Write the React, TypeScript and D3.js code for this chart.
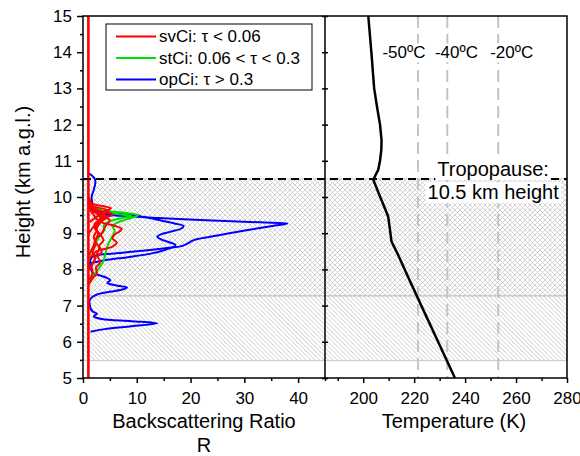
import React, { useEffect, useRef } from "react";
import * as d3 from "d3";

// axis ticks
const heightTicks = [5, 6, 7, 8, 9, 10, 11, 12, 13, 14, 15];
const heightMinor = [5.5, 6.5, 7.5, 8.5, 9.5, 10.5, 11.5, 12.5, 13.5, 14.5];
const ratioTicks = [0, 10, 20, 30, 40];
const ratioMinor = [5, 15, 25, 35, 45];
const tempTicks = [200, 220, 240, 260, 280];
const tempMinor = [190, 210, 230, 250, 270];

// cloud layers (km): cross-hatched upper layer, diagonal lower layer
const layerTop = [10.5, 7.27];
const layerBottom = [7.27, 5.48];
const layerPattern = ["cross", "diag"];
const tropopause = 10.5;

// temperature profile
const tempHeight = [5, 6, 7, 7.7, 8, 8.4, 8.77, 9.1, 9.46, 9.8, 10.1, 10.47, 10.6, 10.75, 11.0, 11.3, 11.57, 12.0, 12.5, 13.0, 14.0, 15.0];
const tempK = [236, 229.4, 222.8, 218.2, 216.3, 213.7, 211.1, 210.5, 209.8, 207.85, 206.1, 204, 204.8, 205.9, 206.6, 207.1, 207.2, 206.6, 205.4, 204.3, 203.2, 202];

// isotherms
const isoK = [221.5, 233, 253];
const isoLabels = ["-50ºC", "-40ºC", "-20ºC"];
const isoLabelK = [216, 236.6, 258.3];
const isoLabelH = 13.83;

// backscatter ratio profiles [height km, R]
const redBase: [number, number][] = [[5, 1], [15, 1]];
const red1: [number, number][] = [[8.3, 1.2], [8.5, 2.5], [8.63, 5.5], [8.74, 6.3], [8.85, 5.5], [8.95, 5.8], [9.05, 6.8], [9.12, 7.2], [9.2, 6], [9.3, 3.5], [9.4, 2.5], [9.5, 2], [9.6, 1.5], [9.8, 1.2]];
const red2: [number, number][] = [[9.3, 1.2], [9.45, 2.5], [9.55, 3.5], [9.63, 4.5], [9.69, 5.2], [9.74, 4], [9.8, 2], [9.9, 1.3], [10.0, 1.1]];
const red3: [number, number][] = [[8.0, 1.2], [8.2, 2], [8.4, 2.5], [8.6, 3], [8.8, 2.2], [9.0, 3.5], [9.2, 4.2], [9.35, 5], [9.45, 4], [9.55, 2.5], [9.65, 1.5], [9.8, 1.1]];
const red4: [number, number][] = [[7.6, 1.1], [7.75, 1.8], [7.9, 2.6], [8.05, 2.4], [8.2, 3.2], [8.35, 2.8], [8.5, 3.5], [8.65, 3], [8.8, 3.8], [8.95, 3.3], [9.1, 2.5], [9.25, 3], [9.4, 3.8], [9.5, 2.8], [9.6, 4.8], [9.66, 4.2], [9.75, 1.8], [9.9, 1.1]];
const red5: [number, number][] = [[8.4, 1.1], [8.6, 1.8], [8.8, 2.3], [9.0, 2.8], [9.15, 2.2], [9.3, 3], [9.45, 4.5], [9.52, 3.8], [9.6, 2], [9.7, 1.2]];
const red6: [number, number][] = [[7.7, 1.1], [7.9, 1.8], [8.1, 1.6], [8.3, 2.2], [8.5, 1.8], [8.7, 2.4], [8.9, 2], [9.1, 2.6], [9.25, 2.2], [9.4, 3.2], [9.55, 2.6], [9.7, 1.5], [9.85, 1.1]];
const red7: [number, number][] = [[9.0, 1.1], [9.15, 1.8], [9.3, 2.5], [9.42, 3.8], [9.5, 5.5], [9.56, 5], [9.62, 3], [9.7, 1.8], [9.8, 1.1]];
const green1: [number, number][] = [[7.6, 1.1], [7.72, 1.6], [7.84, 2], [8.0, 2.8], [8.23, 3.8], [8.45, 4.2], [8.67, 4.6], [8.85, 5.2], [9.06, 5.9], [9.2, 5.5], [9.3, 6.5], [9.4, 8.5], [9.5, 10.3], [9.56, 8], [9.62, 4], [9.7, 2], [9.8, 1.2]];
const green2: [number, number][] = [[8.4, 1.2], [8.6, 2], [8.8, 2.6], [8.95, 3.3], [9.1, 4], [9.2, 3.8], [9.3, 4.5], [9.4, 6.5], [9.47, 9], [9.52, 7], [9.58, 4.5], [9.65, 2.5], [9.75, 1.3]];
const blueDeep: [number, number][] = [[8.05, 1.3], [8.2, 1.3], [8.3, 1.5], [8.37, 2], [8.43, 5], [8.5, 10], [8.58, 15], [8.65, 18.5], [8.72, 19.5], [8.81, 20.6], [8.9, 23.6], [9.0, 27.2], [9.1, 31.2], [9.2, 35.2], [9.27, 38], [9.3, 33], [9.35, 24], [9.42, 14], [9.48, 7], [9.53, 3.5], [9.6, 2], [9.7, 1.8], [9.85, 1.7], [10.0, 1.6], [10.2, 2], [10.4, 2.3], [10.5, 2.2], [10.6, 1.6], [10.68, 0.8]];
const blueWavy: [number, number][] = [[8.17, 1.4], [8.25, 4], [8.35, 9], [8.45, 13], [8.55, 15.5], [8.67, 17.2], [8.75, 16], [8.83, 14.5], [8.9, 13.8], [8.97, 14.5], [9.05, 16.5], [9.13, 18.3], [9.2, 18.7], [9.27, 17], [9.35, 14.5], [9.43, 12], [9.5, 9], [9.55, 5], [9.6, 2.5], [9.7, 1.6], [9.9, 1.4]];
const blueLow: [number, number][] = [[6.28, 1.4], [6.35, 4], [6.43, 9], [6.51, 13.8], [6.57, 9], [6.63, 3.5], [6.7, 2], [6.77, 2.6], [6.84, 1.8], [6.92, 1.4], [7.0, 1.3], [7.13, 1.2], [7.22, 1.6], [7.3, 2.5], [7.38, 5], [7.45, 7.5], [7.5, 8.2], [7.56, 6], [7.63, 4.5], [7.7, 5.1], [7.76, 4.5], [7.83, 3.2], [7.9, 1.8], [8.0, 1.5], [8.1, 1.4]];

const blueProfiles = [blueLow, blueWavy, blueDeep];
const greenProfiles = [green1, green2];
const redProfiles = [red1, red2, red3, red4, red5, red6, red7, redBase];

const legendLabels = ["svCi: τ < 0.06", "stCi: 0.06 < τ < 0.3", "opCi: τ > 0.3"];
const legendColors = ["#ff0000", "#00e000", "#0000ff"];

const W = 580, H = 456;
const margin = { top: 16, left: 83, right: 13, bottom: 78 };
const panelW = (W - margin.left - margin.right) / 2;
const font = "'Liberation Sans', Arial, sans-serif";

export default function App() {
  const ref = useRef<SVGSVGElement>(null);

  useEffect(() => {
    const svg = d3.select(ref.current);
    svg.selectAll("*").remove();
    const x0 = margin.left, x1 = x0 + panelW, x2 = x1 + panelW;
    const yTop = margin.top, yBot = H - margin.bottom;
    const y = d3.scaleLinear().domain([5, 15]).range([yBot, yTop]);
    const xR = d3.scaleLinear().domain([0, 45]).range([x0, x1]);
    const xT = d3.scaleLinear().domain([185, 280]).range([x1, x2]);

    const defs = svg.append("defs");
    const cross = defs.append("pattern").attr("id", "cross").attr("patternUnits", "userSpaceOnUse")
      .attr("width", 5).attr("height", 5);
    cross.append("path").attr("d", "M0,0L5,5M5,0L0,5").attr("stroke", "#c8c8c8").attr("stroke-width", 0.8);
    const diag = defs.append("pattern").attr("id", "diag").attr("patternUnits", "userSpaceOnUse")
      .attr("width", 4.5).attr("height", 4.5);
    diag.append("path").attr("d", "M0,0L4.5,4.5M-1,3.5L1,5.5M3.5,-1L5.5,1").attr("stroke", "#c4c4c4").attr("stroke-width", 0.9);
    defs.append("clipPath").attr("id", "leftClip").append("rect")
      .attr("x", x0).attr("y", yTop).attr("width", panelW).attr("height", yBot - yTop);

    // hatched cloud layers
    svg.append("g").selectAll("rect").data(layerTop).join("rect")
      .attr("x", x0).attr("width", x2 - x0)
      .attr("y", d => y(d)).attr("height", (d, i) => y(layerBottom[i]) - y(d))
      .attr("fill", (d, i) => `url(#${layerPattern[i]})`)
      .attr("stroke", "#c8c8c8").attr("stroke-width", 1);

    // isotherms
    svg.append("g").selectAll("line").data(isoK).join("line")
      .attr("x1", d => xT(d)).attr("x2", d => xT(d)).attr("y1", yTop).attr("y2", yBot)
      .attr("stroke", "#c4c4c4").attr("stroke-width", 2).attr("stroke-dasharray", "12,6");
    const isoG = svg.append("g");
    isoLabels.forEach((lab, i) => {
      const g = isoG.append("g");
      const bg = g.append("rect").attr("fill", "#fff");
      const t = g.append("text").attr("x", xT(isoLabelK[i])).attr("y", y(isoLabelH))
        .attr("text-anchor", "middle").attr("font-family", font).attr("font-size", 17).text(lab);
      const b = (t.node() as SVGTextElement).getBBox();
      bg.attr("x", b.x - 1).attr("y", b.y).attr("width", b.width + 2).attr("height", b.height);
    });

    // backscatter profiles
    const prof = d3.line<[number, number]>().x(d => xR(d[1])).y(d => y(d[0])).curve(d3.curveCatmullRom);
    const pg = svg.append("g").attr("clip-path", "url(#leftClip)");
    const groups: [[number, number][][], string][] = [
      [blueProfiles, legendColors[2]], [greenProfiles, legendColors[1]], [redProfiles, legendColors[0]]];
    groups.forEach(([list, col]) => {
      pg.append("g").selectAll("path").data(list).join("path")
        .attr("d", d => prof(d)).attr("fill", "none").attr("stroke", col)
        .attr("stroke-width", d => (d.length === 2 ? 2.6 : 2));
    });

    // temperature profile
    const tLine = d3.line<number>().x((d, i) => xT(tempK[i])).y(d => y(d)).curve(d3.curveLinear);
    svg.append("path").datum(tempHeight).attr("d", tLine).attr("fill", "none")
      .attr("stroke", "#000").attr("stroke-width", 2.5).attr("stroke-linejoin", "round");

    // tropopause
    svg.append("line").attr("x1", x0).attr("x2", x2).attr("y1", y(tropopause)).attr("y2", y(tropopause))
      .attr("stroke", "#000").attr("stroke-width", 2).attr("stroke-dasharray", "8,5");
    const tropLines = ["Tropopause:", "10.5 km height"];
    const tropH = [10.58, 9.94];
    tropLines.forEach((lab, i) => {
      const g = svg.append("g");
      const bg = g.append("rect").attr("fill", "#fff");
      const t = g.append("text").attr("x", xT(251)).attr("y", y(tropH[i]))
        .attr("text-anchor", "middle").attr("font-family", font).attr("font-size", 20).text(lab);
      const b = (t.node() as SVGTextElement).getBBox();
      bg.attr("x", b.x - 2).attr("y", b.y + 1).attr("width", b.width + 4).attr("height", b.height - 1);
    });

    // axes
    const styleAxis = (g: any) => {
      g.selectAll(".domain").remove();
      g.selectAll("line").attr("stroke", "#000").attr("stroke-width", 1.5);
      g.selectAll("text").attr("font-family", font).attr("font-size", 17).attr("fill", "#000");
    };
    svg.append("g").attr("transform", `translate(${x0},0)`)
      .call(d3.axisLeft(y).tickValues(heightTicks).tickSize(6).tickPadding(5)).call(styleAxis);
    svg.append("g").attr("transform", `translate(${x0},0)`)
      .call(d3.axisLeft(y).tickValues(heightMinor).tickSize(3).tickFormat(() => "")).call(styleAxis);
    svg.append("g").attr("transform", `translate(${x1},0)`)
      .call(d3.axisLeft(y).tickValues(heightTicks).tickSize(3).tickFormat(() => "")).call(styleAxis);
    svg.append("g").attr("transform", `translate(${x1},0)`)
      .call(d3.axisRight(y).tickValues(heightTicks).tickSize(3).tickFormat(() => "")).call(styleAxis);
    svg.append("g").attr("transform", `translate(0,${yBot})`)
      .call(d3.axisBottom(xR).tickValues(ratioTicks).tickSize(5).tickPadding(9)).call(styleAxis);
    svg.append("g").attr("transform", `translate(0,${yBot})`)
      .call(d3.axisBottom(xR).tickValues(ratioMinor).tickSize(3).tickFormat(() => "")).call(styleAxis);
    svg.append("g").attr("transform", `translate(0,${yBot})`)
      .call(d3.axisBottom(xT).tickValues(tempTicks).tickSize(5).tickPadding(9)).call(styleAxis);
    svg.append("g").attr("transform", `translate(0,${yBot})`)
      .call(d3.axisBottom(xT).tickValues(tempMinor).tickSize(3).tickFormat(() => "")).call(styleAxis);

    // frame
    svg.append("path")
      .attr("d", `M${x0},${yBot}L${x0},${yTop}L${x2},${yTop}L${x2},${yBot}Z M${x1},${yTop}L${x1},${yBot}`)
      .attr("fill", "none").attr("stroke", "#000").attr("stroke-width", 1.5);

    // titles
    svg.append("text").attr("transform", `translate(30,182) rotate(-90)`).attr("text-anchor", "middle")
      .attr("font-family", font).attr("font-size", 20).text("Height (km a.g.l.)");
    svg.append("text").attr("x", (x0 + x1) / 2).attr("y", 428).attr("text-anchor", "middle")
      .attr("font-family", font).attr("font-size", 20).text("Backscattering Ratio");
    svg.append("text").attr("x", (x0 + x1) / 2).attr("y", 452).attr("text-anchor", "middle")
      .attr("font-family", font).attr("font-size", 20).text("R");
    svg.append("text").attr("x", (x1 + x2) / 2 + 8).attr("y", 428).attr("text-anchor", "middle")
      .attr("font-family", font).attr("font-size", 20).text("Temperature (K)");

    // legend
    const lg = svg.append("g").attr("transform", "translate(106,24)");
    lg.append("rect").attr("width", 206).attr("height", 66).attr("fill", "#fff")
      .attr("stroke", "#000").attr("stroke-width", 1);
    const items = lg.selectAll(".item").data(legendLabels).join("g").attr("class", "item")
      .attr("transform", (d, i) => `translate(0,${12.5 + i * 21.5})`);
    items.append("line").attr("x1", 10).attr("x2", 50).attr("stroke", (d, i) => legendColors[i]).attr("stroke-width", 2);
    items.append("text").attr("x", 53).attr("dy", "0.35em").attr("font-family", font).attr("font-size", 17)
      .text(d => d);
  }, []);

  return (
    <svg ref={ref} width={W} height={H} style={{ position: "absolute", left: 0, top: 0, background: "#fff" }} />
  );
}
